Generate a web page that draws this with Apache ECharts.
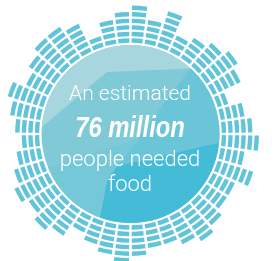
<!DOCTYPE html>
<html><head><meta charset="utf-8">
<script src="https://cdn.jsdelivr.net/npm/echarts@6/dist/echarts.min.js"></script>
<style>html,body{margin:0;padding:0;background:#fff}#c{width:275px;height:261px}</style>
</head><body><div id="c"></div>
<script>
// number of stacked segments in each radial column, clockwise from 12 o'clock
const heights = [6,4,6,3,4,5,6,5,2,4, 5,6,4,6,4,4,5,6,5,4, 4,5,6,5,4,3,5,6,5,6, 5,4,3,4,5,6,4,5,6,6, 5,2,4,5];
const categories = heights.map((_, i) => 'col' + (i + 1));
const textLines = ['An estimated', '76 million', 'people needed', 'food'];

const CX = 130.5, CY = 134, CIRCLE_R = 89;
const R_IN = 91.3, THICK = 4.4, GAP = 2.15;
const BAR = '#62c4d9';

const chart = echarts.init(document.getElementById('c'), null, {renderer: 'canvas'});

const maxLevel = Math.max(...heights);
const common = {type: 'bar', coordinateSystem: 'polar', stack: 'ring', barCategoryGap: '17%', silent: true, animation: false};
const series = [Object.assign({}, common, {data: categories.map(() => R_IN), itemStyle: {color: 'rgba(0,0,0,0)'}})];
for (let j = 1; j <= maxLevel; j++) {
  series.push(Object.assign({}, common, {data: heights.map(h => h >= j ? THICK : 0), itemStyle: {color: BAR}}));
  if (j < maxLevel) series.push(Object.assign({}, common, {data: heights.map(h => h > j ? GAP : 0), itemStyle: {color: 'rgba(0,0,0,0)'}}));
}

function pt(deg) { const a = deg * Math.PI / 180; return [CX + CIRCLE_R * Math.cos(a), CY + CIRCLE_R * Math.sin(a)]; }
function arc(a1, a2) { const n = 40, out = []; for (let i = 0; i <= n; i++) out.push(pt(a1 + (a2 - a1) * i / n)); return out; }

const facets = [
  {fill: '#a7d6df', points: [pt(184.4), [107, 72]].concat(arc(312.5, 184.4))},
  {fill: '#6ac5d9', points: [[117, 166]].concat(arc(365.7, 312.5))},
  {fill: '#45bcd7', points: [[117, 166]].concat(arc(5.7, 110.2), [[107, 181]])},
  {fill: '#74c8d8', points: [[141, 138], [117, 166], [107, 181]].concat(arc(110.2, 158))}
];

const graphic = [{type: 'circle', shape: {cx: CX, cy: CY, r: CIRCLE_R}, style: {fill: '#80cad8'}, silent: true, z: 0}];
facets.forEach(f => graphic.push({type: 'polygon', shape: {points: f.points}, style: {fill: f.fill}, silent: true, z: 0}));
const textStyles = [
  {y: 95, font: '300 21px Roboto, "Open Sans", sans-serif'},
  {y: 129, font: 'italic bold 29px "Liberation Sans", Arial, sans-serif', scaleX: 0.82},
  {y: 160, font: '300 22px Roboto, "Open Sans", sans-serif'},
  {y: 185, font: '300 22px Roboto, "Open Sans", sans-serif'}
];
textLines.forEach((t, i) => {
  const s = textStyles[i];
  graphic.push({type: 'text', x: 130, y: s.y, scaleX: s.scaleX || 1, z: 10, silent: true,
    style: {text: t, x: 0, y: 0, font: s.font, fill: '#ffffff', align: 'center', verticalAlign: 'middle'}});
});

chart.setOption({
  animation: false,
  backgroundColor: '#ffffff',
  polar: {center: [CX, CY], radius: 140},
  angleAxis: {type: 'category', data: categories, startAngle: 90, clockwise: true, show: false},
  radiusAxis: {type: 'value', min: 0, max: 140, show: false},
  graphic: graphic,
  series: series
});
</script>
</body></html>
